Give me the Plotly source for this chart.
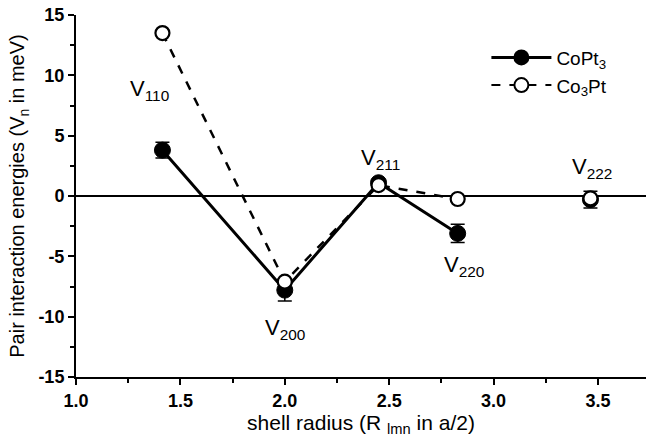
import plotly.graph_objects as go

# shell radii (in a/2)
shell_r = [1.414, 2.0, 2.449, 2.828, 3.464]
shell_names = ["110", "200", "211", "220", "222"]
# pair interaction energies (meV)
copt3 = [3.8, -7.8, 1.1, -3.1, -0.3]
copt3_err = [0.65, 0.9, 0.3, 0.75, 0.7]
co3pt = [13.5, -7.1, 0.9, -0.25, -0.2]

# tick labels
x_ticks = [1.0, 1.5, 2.0, 2.5, 3.0, 3.5]
x_ticktext = ["1.0", "1.5", "2.0", "2.5", "3.0", "3.5"]
y_ticks = [-15, -10, -5, 0, 5, 10, 15]
y_ticktext = ["-15", "-10", "-5", "0", "5", "10", "15"]

# label anchor positions (data coordinates)
label_x = [1.35, 2.0, 2.46, 2.86, 3.47]
label_y = [8.8, -11.0, 3.1, -5.8, 2.3]

FONT = "Liberation Sans, Arial, sans-serif"

fig = go.Figure()

# lines (connected part: first four shells)
fig.add_trace(go.Scatter(
    x=shell_r[:4], y=co3pt[:4], mode="lines",
    line=dict(color="black", width=2.5, dash="dash"),
    showlegend=False, hoverinfo="skip"))
fig.add_trace(go.Scatter(
    x=shell_r[:4], y=copt3[:4], mode="lines",
    line=dict(color="black", width=3),
    showlegend=False, hoverinfo="skip"))

# CoPt3 markers with error bars
fig.add_trace(go.Scatter(
    x=shell_r, y=copt3, mode="markers",
    marker=dict(symbol="circle", size=16, color="black",
                line=dict(color="black", width=1)),
    error_y=dict(type="data", array=copt3_err, color="black",
                 thickness=1.5, width=7),
    showlegend=False))

# Co3Pt markers
fig.add_trace(go.Scatter(
    x=shell_r, y=co3pt, mode="markers",
    marker=dict(symbol="circle", size=14, color="white",
                line=dict(color="black", width=2.2)),
    showlegend=False))

# legend entries
fig.add_trace(go.Scatter(
    x=[None], y=[None], mode="lines+markers", name="CoPt<sub>3</sub>",
    line=dict(color="black", width=3),
    marker=dict(symbol="circle", size=16, color="black")))
fig.add_trace(go.Scatter(
    x=[None], y=[None], mode="lines+markers", name="Co<sub>3</sub>Pt",
    line=dict(color="black", width=2, dash="dash"),
    marker=dict(symbol="circle", size=14, color="white",
                line=dict(color="black", width=2))))

# V labels
for lx, ly, nm in zip(label_x, label_y, shell_names):
    fig.add_annotation(x=lx, y=ly, xref="x", yref="y",
                       text=f"V<sub>{nm}</sub>", showarrow=False,
                       font=dict(family=FONT, size=22, color="black"))

xrange = [1.0, 3.73]
minor_x = [1.25, 1.75, 2.25, 2.75, 3.25, 3.75]
minor_y = [-12.5, -7.5, -2.5, 2.5, 7.5, 12.5]

fig.update_layout(
    width=646, height=443,
    margin=dict(l=76, r=0, t=15, b=66),
    plot_bgcolor="white", paper_bgcolor="white",
    font=dict(family=FONT, color="black"),
    legend=dict(x=0.72, y=0.935, xanchor="left", yanchor="top",
                bgcolor="rgba(0,0,0,0)", itemwidth=60,
                font=dict(family=FONT, size=19, color="black"),
                tracegroupgap=0),
    xaxis=dict(
        range=xrange, tickvals=x_ticks,
        ticktext=[f"<b>{t}</b>" for t in x_ticktext],
        ticks="outside", ticklen=6, tickwidth=2, tickcolor="black",
        minor=dict(tickvals=minor_x,
                   ticks="outside", ticklen=4, tickwidth=2, tickcolor="black"),
        showline=True, linecolor="black", linewidth=2,
        showgrid=False, zeroline=False,
        tickfont=dict(family=FONT, size=18, color="black"),
        title=dict(text="shell radius (R <sub>lmn</sub> in a/2)",
                   font=dict(family=FONT, size=21, color="black"),
                   standoff=5),
    ),
    xaxis2=dict(
        range=xrange, overlaying="x", side="top",
        tickvals=x_ticks, showticklabels=False,
        ticks="inside", ticklen=6, tickwidth=2, tickcolor="black",
        minor=dict(tickvals=minor_x,
                   ticks="inside", ticklen=4, tickwidth=2, tickcolor="black"),
        showline=True, linecolor="black", linewidth=2,
        showgrid=False, zeroline=False,
    ),
    yaxis=dict(
        range=[-15, 15], tickvals=y_ticks,
        ticktext=[f"<b>{t}</b>" for t in y_ticktext],
        ticks="outside", ticklen=6, tickwidth=2, tickcolor="black",
        minor=dict(tickvals=minor_y,
                   ticks="outside", ticklen=4, tickwidth=2, tickcolor="black"),
        showline=True, linecolor="black", linewidth=2,
        showgrid=False, zeroline=True, zerolinecolor="black", zerolinewidth=2,
        tickfont=dict(family=FONT, size=18, color="black"),
        title=dict(text="Pair interaction energies (V<sub>n</sub> in meV)",
                   font=dict(family=FONT, size=20, color="black"),
                   standoff=8),
    ),
)

fig.write_html("out.html")
